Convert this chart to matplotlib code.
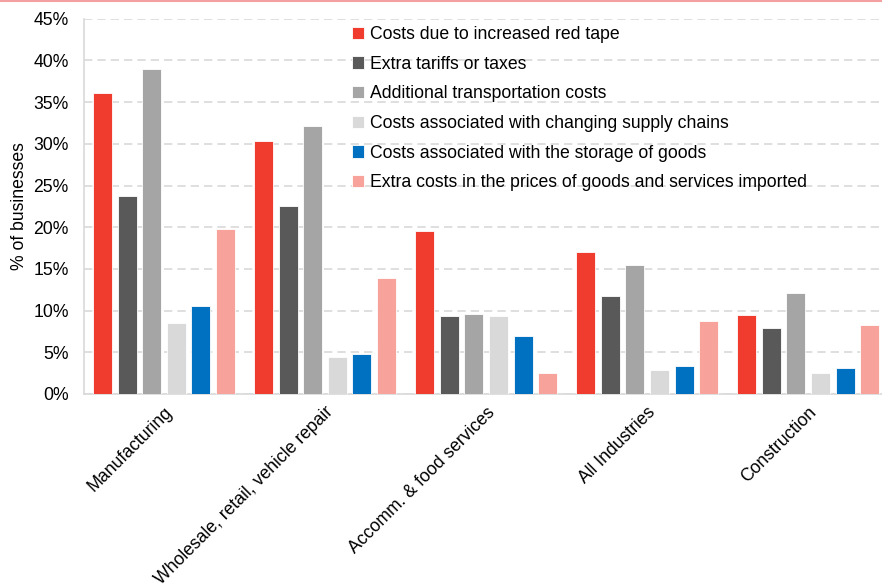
import matplotlib.pyplot as plt
import numpy as np
from matplotlib.lines import Line2D

plt.rcParams['font.family'] = ['Liberation Sans', 'DejaVu Sans']

categories = ['Manufacturing', 'Wholesale, retail, vehicle repair',
              'Accomm. & food services', 'All Industries', 'Construction']
series = ['Costs due to increased red tape',
          'Extra tariffs or taxes',
          'Additional transportation costs',
          'Costs associated with changing supply chains',
          'Costs associated with the storage of goods',
          'Extra costs in the prices of goods and services imported']
red_tape = [36.1, 30.4, 19.5, 17.0, 9.5]
tariffs = [23.7, 22.6, 9.4, 11.8, 7.9]
transport = [39.0, 32.2, 9.6, 15.5, 12.1]
supply_chains = [8.5, 4.4, 9.4, 2.9, 2.5]
storage = [10.5, 4.85, 6.9, 3.35, 3.1]
imported = [19.8, 13.9, 2.5, 8.8, 8.25]
colors = ['#F03C2E', '#595959', '#A5A5A5', '#D9D9D9', '#0070C0', '#F7A29B']

values = [red_tape, tariffs, transport, supply_chains, storage, imported]
fs = 12.7

fig = plt.figure(figsize=(8.82, 5.88), dpi=100)
ax = fig.add_axes([0.0952, 0.330, 0.905, 0.638])

x = np.arange(len(categories))
step = 0.153
width = 0.118
for i, (vals, name, c) in enumerate(zip(values, series, colors)):
    ax.bar(x + (i - 2.5) * step, vals, width, color=c, label=name,
           edgecolor='white', linewidth=0.6, zorder=3)

ax.set_ylim(0, 45)
ax.set_xlim(-0.497, 4.46)
ax.set_yticks(range(0, 46, 5))
ax.set_yticklabels([f'{v}%' for v in range(0, 46, 5)], fontsize=fs)
ax.yaxis.grid(True, color='#D9D9D9', linestyle=(0, (5, 3)), linewidth=1.2, zorder=0)
ax.set_xticks(x)
ax.set_xticklabels(categories, rotation=45, ha='right', rotation_mode='anchor', fontsize=fs)
ax.tick_params(axis='x', length=0, pad=7)
ax.tick_params(axis='y', length=0, pad=11)
ax.set_ylabel('% of businesses', fontsize=fs, labelpad=4)
for s in ['top', 'right']:
    ax.spines[s].set_visible(False)
for s in ['left', 'bottom']:
    ax.spines[s].set_color('#D9D9D9')
    ax.spines[s].set_linewidth(1.2)

leg = ax.legend(loc='upper left', bbox_to_anchor=(0.327, 1.0), frameon=False,
                fontsize=fs, handlelength=0.7, handleheight=0.7, handletextpad=0.3,
                labelspacing=0.72, borderaxespad=0)

fig.add_artist(Line2D([0, 1], [0.999, 0.999], color='#F4A0A0', linewidth=1.5,
                      transform=fig.transFigure))

fig.savefig('out.png', dpi=100)
